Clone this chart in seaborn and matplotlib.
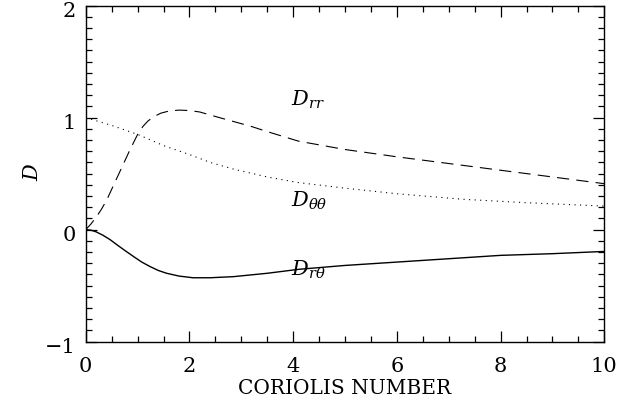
import numpy as np
import pandas as pd
import matplotlib
matplotlib.use("Agg")
import matplotlib.pyplot as plt
import matplotlib.transforms as mtrans
import seaborn as sns
from matplotlib.ticker import MultipleLocator

# ---- data ----
x_rr = [0, 0.1, 0.2, 0.3, 0.4, 0.55, 0.7, 0.85, 1.0, 1.1, 1.2, 1.32, 1.45, 1.6, 1.8, 2.0, 2.2, 2.5, 2.85, 3.2, 3.5, 4.1, 5, 6, 7, 8, 9, 10]
d_rr = [0, 0.05, 0.11, 0.18, 0.26, 0.41, 0.56, 0.71, 0.85, 0.92, 0.97, 1.01, 1.04, 1.058, 1.067, 1.063, 1.05, 1.01, 0.965, 0.92, 0.875, 0.79, 0.715, 0.65, 0.59, 0.53, 0.47, 0.41]

x_tt = [0, 0.5, 1.0, 1.5, 2.0, 2.4, 2.85, 3.5, 4.1, 5, 6, 7.3, 8.5, 10]
d_tt = [1.0, 0.93, 0.85, 0.75, 0.67, 0.6, 0.54, 0.47, 0.42, 0.37, 0.32, 0.27, 0.24, 0.21]

x_rt = [0, 0.1, 0.2, 0.33, 0.47, 0.6, 0.75, 0.92, 1.08, 1.24, 1.4, 1.56, 1.8, 2.07, 2.4, 2.85, 3.5, 4.1, 5, 6, 7, 8, 9, 10]
d_rt = [0, -0.005, -0.02, -0.05, -0.09, -0.135, -0.185, -0.24, -0.29, -0.33, -0.365, -0.39, -0.415, -0.43, -0.43, -0.42, -0.39, -0.355, -0.32, -0.29, -0.26, -0.23, -0.215, -0.195]

labels = [r"$D_{rr}$", r"$D_{\theta\theta}$", r"$D_{r\theta}$"]
label_pos = [(3.95, 1.16), (3.95, 0.26), (3.95, -0.36)]

xlabel = "CORIOLIS NUMBER"
ylabel = "$D$"

sns.set_style("ticks")
plt.rcParams["font.family"] = ["DejaVu Serif"]
plt.rcParams["mathtext.fontset"] = "dejavuserif"
plt.rcParams["axes.unicode_minus"] = True

fig = plt.figure(figsize=(6.26, 4.0), dpi=100)
ax = fig.add_axes([0.137, 0.146, 0.9653 - 0.137, 0.986 - 0.146])

df_rr = pd.DataFrame({"x": x_rr, "D": d_rr})
df_tt = pd.DataFrame({"x": x_tt, "D": d_tt})
df_rt = pd.DataFrame({"x": x_rt, "D": d_rt})

sns.lineplot(data=df_rr, x="x", y="D", ax=ax, color="black", lw=0.8)
ax.lines[-1].set_dashes((11, 6.5))
sns.lineplot(data=df_tt, x="x", y="D", ax=ax, color="black", lw=0.8)
ax.lines[-1].set_dashes((1, 4))
sns.lineplot(data=df_rt, x="x", y="D", ax=ax, color="black", lw=1.0)

for (tx, ty), lab in zip(label_pos, labels):
    ax.text(tx, ty, lab, fontsize=15, ha="left", va="center", color="black")

ax.set_xlim(0, 10)
ax.set_ylim(-1, 2)
ax.xaxis.set_major_locator(MultipleLocator(2))
ax.xaxis.set_minor_locator(MultipleLocator(0.5))
ax.yaxis.set_major_locator(MultipleLocator(1))
ax.yaxis.set_minor_locator(MultipleLocator(0.1))
ax.tick_params(which="both", direction="in", top=True, right=True, colors="black",
               labelcolor="black", labelsize=15, width=0.9)
ax.tick_params(which="major", length=8)
ax.tick_params(axis="x", which="major", pad=11)
ax.tick_params(axis="y", which="major", pad=7)
ax.tick_params(which="minor", length=4)
for s in ax.spines.values():
    s.set_linewidth(1.0)
    s.set_color("black")

# y tick labels sit a few pixels below their ticks in the reference
shift = mtrans.ScaledTranslation(0, -4 / 100, fig.dpi_scale_trans)
for lab in ax.get_yticklabels():
    lab.set_transform(lab.get_transform() + shift)

ax.set_xlabel(xlabel, fontsize=14.5, labelpad=2, color="black")
ax.set_ylabel(ylabel, fontsize=15, color="black")
ax.yaxis.set_label_coords(-0.084, 0.505)

fig.savefig("out.png", dpi=100)
